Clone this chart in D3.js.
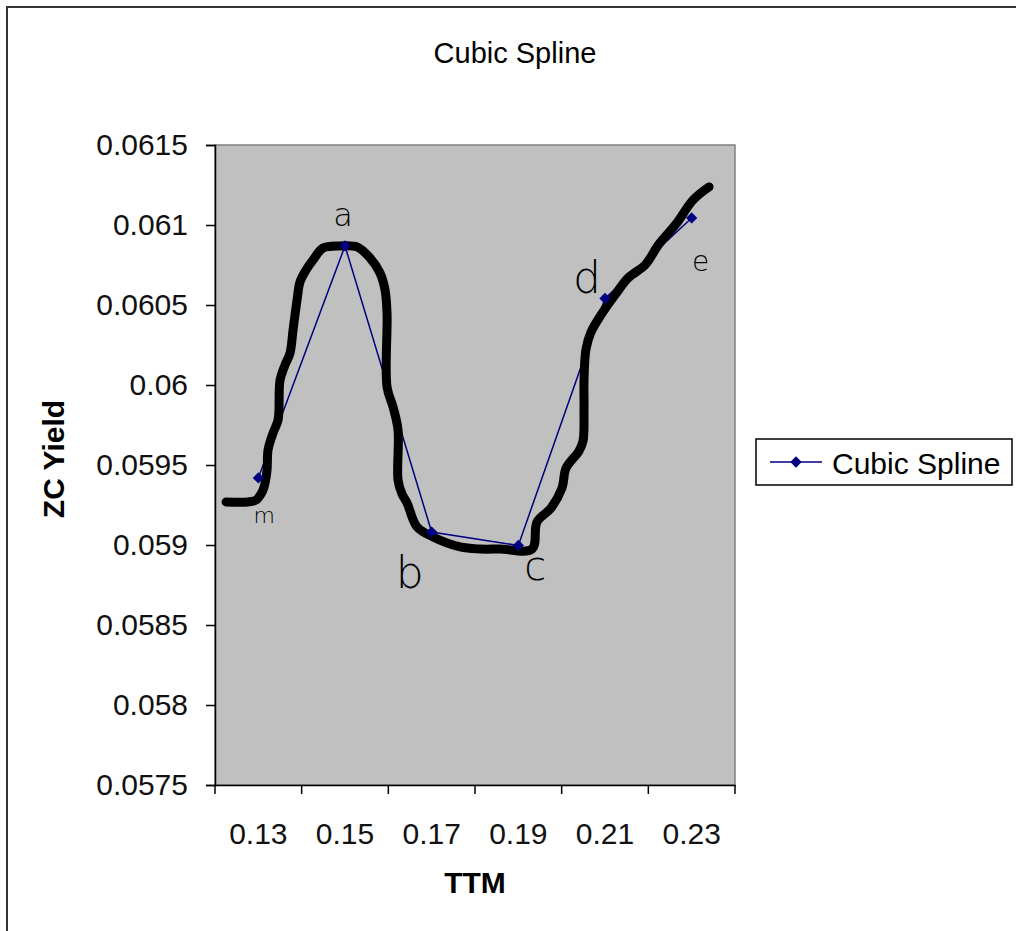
<!DOCTYPE html>
<html>
<head>
<meta charset="utf-8">
<script src="https://d3js.org/d3.v7.min.js"></script>
<style>
  body { margin: 0; background: #fff; }
  text { font-family: "Liberation Sans", Arial, sans-serif; }
</style>
</head>
<body>
<div id="chart"></div>
<script>
// categories on the x axis (Excel line chart, category axis)
var ttmLabels = ["0.13", "0.15", "0.17", "0.19", "0.21", "0.23"];
// series values
var zcYield = [0.059419, 0.060869, 0.059081, 0.058997, 0.060541, 0.061044];
// hand written letters next to each point
var pointNames = ["m", "a", "b", "c", "d", "e"];
var yTicks = [0.0575, 0.058, 0.0585, 0.059, 0.0595, 0.06, 0.0605, 0.061, 0.0615];

// the thick hand drawn curve, in TTM / yield units
var handTTM = [0.12255, 0.12762, 0.12947, 0.13062, 0.13132, 0.13201, 0.13224, 0.13339, 0.13455,
  0.13501, 0.13616, 0.13732, 0.13801, 0.13893, 0.13962, 0.14101, 0.14262, 0.14493, 0.14885,
  0.15278, 0.15578, 0.15808, 0.15924, 0.15970, 0.15970, 0.16108, 0.16224, 0.16224, 0.16316,
  0.16432, 0.16662, 0.17032, 0.17655, 0.18116, 0.18578, 0.19316, 0.19432, 0.19755, 0.20008,
  0.20101, 0.20401, 0.20493, 0.20516, 0.20516, 0.20562, 0.20678, 0.20908, 0.21232, 0.21532,
  0.21924, 0.22247, 0.22639, 0.23032, 0.23401];
var handYield = [0.059269, 0.059269, 0.059281, 0.059319, 0.059363, 0.059469, 0.059594, 0.0597,
  0.059781, 0.060031, 0.060125, 0.0602, 0.060344, 0.060531, 0.060644, 0.060719, 0.060781,
  0.060856, 0.060869, 0.060863, 0.060794, 0.0607, 0.060594, 0.06045, 0.059988, 0.059863,
  0.059719, 0.059406, 0.059319, 0.059263, 0.059113, 0.05905, 0.058988, 0.058975, 0.058975,
  0.058975, 0.059144, 0.059231, 0.059356, 0.059481, 0.059588, 0.05965, 0.059844, 0.060031,
  0.060225, 0.060331, 0.060438, 0.060563, 0.060669, 0.06075, 0.060881, 0.061006, 0.061156,
  0.061238];

// label offsets from each point, pixels
var nameDx = [6, -2, -22, 17, -18, 9];
var nameDy = [45, -20, 56, 35, -5, 53];
var nameSize = [22, 32, 44, 40, 44, 28];

var W = 1016, H = 931;
var plot = {left: 215, top: 145, right: 735, bottom: 785};

var svg = d3.select("#chart")
  .append("svg")
    .attr("width", W)
    .attr("height", H);

// outer chart border
svg.append("rect")
  .attr("x", 7).attr("y", 7)
  .attr("width", W + 20).attr("height", H + 20)
  .attr("fill", "#fff")
  .attr("stroke", "#333")
  .attr("stroke-width", 2);

// plot area
svg.append("rect")
  .attr("x", plot.left).attr("y", plot.top)
  .attr("width", plot.right - plot.left).attr("height", plot.bottom - plot.top)
  .attr("fill", "#c0c0c0")
  .attr("stroke", "#808080")
  .attr("stroke-width", 1.5);

var x = d3.scaleBand()
  .domain(ttmLabels)
  .range([plot.left, plot.right]);
var bw = x.bandwidth();

// continuous version of the category axis for the hand drawn curve
var xc = d3.scaleLinear()
  .domain([+ttmLabels[0], +ttmLabels[ttmLabels.length - 1]])
  .range([x(ttmLabels[0]) + bw / 2, x(ttmLabels[ttmLabels.length - 1]) + bw / 2]);

var y = d3.scaleLinear()
  .domain([0.0575, 0.0615])
  .range([plot.bottom, plot.top]);

// y axis
var yAxis = svg.append("g")
  .attr("transform", "translate(" + plot.left + ",0)")
  .call(d3.axisLeft(y).tickValues(yTicks).tickSize(9).tickPadding(18)
    .tickFormat(function(d) { return String(+d.toFixed(4)); }));
yAxis.select(".domain").attr("stroke", "#000").attr("stroke-width", 1.5);
yAxis.selectAll(".tick line").attr("stroke", "#000").attr("stroke-width", 1.5);
yAxis.selectAll(".tick text")
  .attr("fill", "#111")
  .style("font-size", "30px")
  .style("font-family", "Liberation Sans, Arial, sans-serif");

// x axis, ticks between categories like Excel
var xAxis = svg.append("g")
  .attr("transform", "translate(0," + plot.bottom + ")")
  .call(d3.axisBottom(x).tickSize(0).tickPadding(38).tickSizeOuter(0));
xAxis.select(".domain").attr("stroke", "#000").attr("stroke-width", 1.5);
xAxis.selectAll(".tick text")
  .attr("fill", "#111")
  .style("font-size", "30px")
  .style("font-family", "Liberation Sans, Arial, sans-serif");
xAxis.selectAll(".cat-tick")
  .data(ttmLabels.concat(["end"]))
  .enter().append("line")
    .attr("x1", function(d, i) { return plot.left + i * bw; })
    .attr("x2", function(d, i) { return plot.left + i * bw; })
    .attr("y1", 0).attr("y2", 9)
    .attr("stroke", "#000")
    .attr("stroke-width", 1.5);

// series line
var pts = ttmLabels.map(function(d, i) { return [x(d) + bw / 2, y(zcYield[i])]; });
svg.append("path")
  .datum(pts)
  .attr("fill", "none")
  .attr("stroke", "#000080")
  .attr("stroke-width", 1.5)
  .attr("d", d3.line());

// hand drawn curve on top
var hand = handTTM.map(function(d, i) { return [xc(d), y(handYield[i])]; });
svg.append("path")
  .datum(hand)
  .attr("fill", "none")
  .attr("stroke", "#000")
  .attr("stroke-width", 9)
  .attr("stroke-linejoin", "round")
  .attr("stroke-linecap", "round")
  .attr("d", d3.line().curve(d3.curveCatmullRom));

// diamond markers
svg.selectAll(".marker")
  .data(pts)
  .enter().append("path")
    .attr("transform", function(d) { return "translate(" + d[0] + "," + d[1] + ") rotate(45)"; })
    .attr("d", "M-4,-4H4V4H-4Z")
    .attr("fill", "#000080");

// hand written letters
svg.selectAll(".name")
  .data(pts)
  .enter().append("text")
    .attr("x", function(d, i) { return d[0] + nameDx[i]; })
    .attr("y", function(d, i) { return d[1] + nameDy[i]; })
    .attr("text-anchor", "middle")
    .style("font-family", "DejaVu Sans, sans-serif")
    .style("font-weight", "200")
    .style("font-size", function(d, i) { return nameSize[i] + "px"; })
    .text(function(d, i) { return pointNames[i]; });

// title
svg.append("text")
  .attr("x", 515).attr("y", 63)
  .attr("text-anchor", "middle")
  .style("font-size", "29px")
  .text("Cubic Spline");

// axis titles
svg.append("text")
  .attr("transform", "translate(64,459) rotate(-90)")
  .attr("text-anchor", "middle")
  .style("font-size", "30px")
  .style("font-weight", "bold")
  .text("ZC Yield");

svg.append("text")
  .attr("x", 475).attr("y", 893)
  .attr("text-anchor", "middle")
  .style("font-size", "30px")
  .style("font-weight", "bold")
  .text("TTM");

// legend
var lg = svg.append("g").attr("transform", "translate(756,439)");
lg.append("rect")
  .attr("width", 256).attr("height", 46)
  .attr("fill", "#fff")
  .attr("stroke", "#000")
  .attr("stroke-width", 1.5);
lg.append("line")
  .attr("x1", 14).attr("x2", 66).attr("y1", 23).attr("y2", 23)
  .attr("stroke", "#000080").attr("stroke-width", 1.5);
lg.append("path")
  .attr("transform", "translate(40,23) rotate(45)")
  .attr("d", "M-4,-4H4V4H-4Z")
  .attr("fill", "#000080");
lg.append("text")
  .attr("x", 76).attr("y", 35)
  .style("font-size", "30px")
  .text("Cubic Spline");
</script>
</body>
</html>
